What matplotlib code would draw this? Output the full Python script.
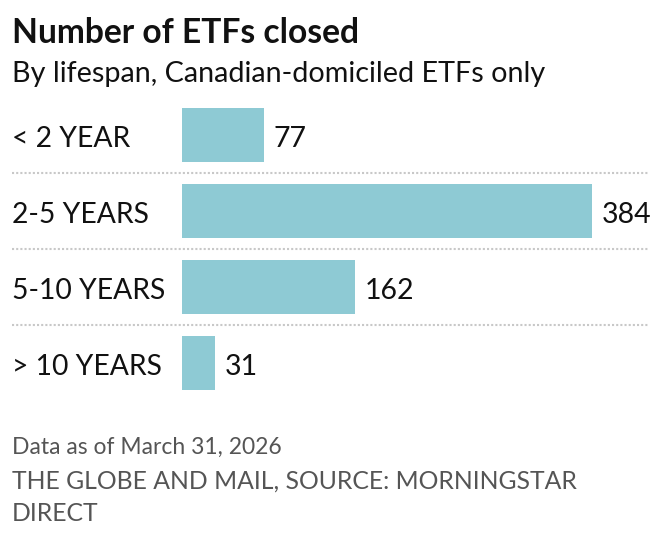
import matplotlib
matplotlib.use("Agg")
import matplotlib.pyplot as plt
import matplotlib.transforms as mtransforms

categories = ["< 2 YEAR", "2-5 YEARS", "5-10 YEARS", "> 10 YEARS"]
values = [77, 384, 162, 31]

title = "Number of ETFs closed"
subtitle = "By lifespan, Canadian-domiciled ETFs only"
note = "Data as of March 31, 2026"
source = "THE GLOBE AND MAIL, SOURCE: MORNINGSTAR\nDIRECT"

W, H = 660, 540
fig = plt.figure(figsize=(W / 100, H / 100), dpi=100)
fig.patch.set_facecolor("white")

def fx(px):
    return px / W

def fy(py):
    return 1 - py / H

ax = fig.add_axes([fx(182), fy(401), fx(592) - fx(182), fy(97) - fy(401)])
ax.barh(range(len(values)), values, height=54 / 76, color="#8ecad4", left=0)
ax.set_xlim(0, max(values))
ax.set_ylim(len(values) - 0.5, -0.5)
ax.axis("off")

blend = mtransforms.blended_transform_factory(fig.transFigure, ax.transData)
base_off = -8.3  # points from bar centre to text baseline
for i, (c, v) in enumerate(zip(categories, values)):
    ax.annotate(c, (fx(12), i), xycoords=blend, xytext=(0, base_off),
                textcoords="offset points", ha="left", va="baseline",
                fontsize=20.3, family="Lato", color="#111111")
    ax.annotate(str(v), (v, i), xytext=(7, base_off), textcoords="offset points",
                ha="left", va="baseline", fontsize=20.5, family="Lato", color="#111111")
for k in range(len(values) - 1):
    ax.plot([fx(12), fx(648)], [k + 0.5, k + 0.5], transform=blend,
            color="#c8c8c8", linestyle=(0, (1, 1)), linewidth=1.5, clip_on=False)

fig.text(fx(12), fy(43), title, ha="left", va="baseline", fontsize=24.2,
         family="Lato", weight="bold", color="#111111")
fig.text(fx(12), fy(82), subtitle, ha="left", va="baseline", fontsize=20.7,
         family="Lato", color="#111111")
fig.text(fx(12), fy(454), note, ha="left", va="baseline", fontsize=16.5,
         family="Lato", color="#555555")
fig.text(fx(12), fy(521), source, ha="left", va="baseline", fontsize=17.8,
         family="Lato", color="#555555", linespacing=1.5)

fig.savefig("out.png", dpi=100, facecolor="white")
